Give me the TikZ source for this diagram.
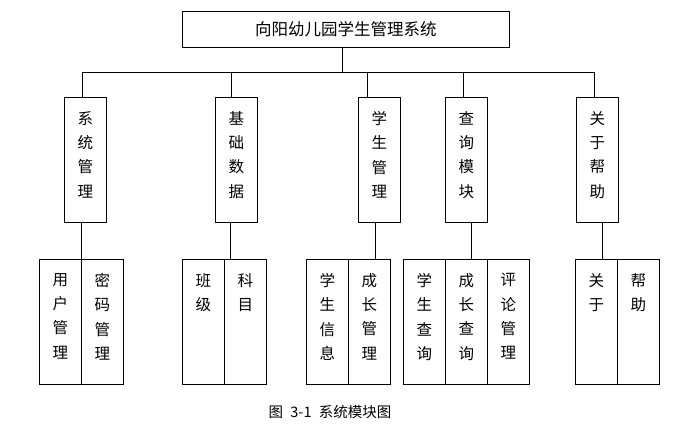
\documentclass[tikz,border=0pt]{standalone}
\usepackage{fontspec}
\newfontfamily\cjk{Noto Sans CJK SC}
\begin{document}
\begin{tikzpicture}[x=1pt,y=-1pt, line width=0.9pt,
  lv/.style={draw, minimum width=42pt, minimum height=125pt, inner sep=0pt, anchor=north west},
  vt/.style={anchor=north, yshift=-13.8pt, align=center, inner sep=0pt, font=\cjk\fontsize{15.5}{24.3}\selectfont},
  ]
\useasboundingbox[fill=white] (0,0) rectangle (697,437);
\node[draw, minimum width=327pt, minimum height=36pt, inner sep=0pt, anchor=north west, font=\cjk\fontsize{16.5}{20}\selectfont] (t) at (182,10.5) {向阳幼儿园学生管理系统\hspace{9pt}};
% level 2
\node[lv, label={[vt]north:系\\统\\管\\理}] (a) at (64,97) {};
\node[lv, label={[vt]north:基\\础\\数\\据}] (b) at (215,97) {};
\node[lv, label={[vt]north:学\\生\\管\\理}] (c) at (358,97) {};
\node[lv, label={[vt]north:查\\询\\模\\块}] (d) at (445,97) {};
\node[lv, label={[vt]north:关\\于\\帮\\助}] (e) at (576,97) {};
% level 3
\node[lv, label={[vt]north:用\\户\\管\\理}] (a1) at (39,259) {};
\node[lv, label={[vt]north:密\\码\\管\\理}] (a2) at (81,259) {};
\node[lv, label={[vt]north:班\\级}] (b1) at (182,259) {};
\node[lv, label={[vt]north:科\\目}] (b2) at (224,259) {};
\node[lv, label={[vt]north:学\\生\\信\\息}] (c1) at (306,259) {};
\node[lv, label={[vt]north:成\\长\\管\\理}] (c2) at (348,259) {};
\node[lv, label={[vt]north:学\\生\\查\\询}] (d1) at (403,259) {};
\node[lv, label={[vt]north:成\\长\\查\\询}] (d2) at (445,259) {};
\node[lv, label={[vt]north:评\\论\\管\\理}] (d3) at (487,259) {};
\node[lv, label={[vt]north:关\\于}] (e1) at (575,259) {};
\node[lv, label={[vt]north:帮\\助}] (e2) at (617,259) {};
% caption
\node[font=\cjk\fontsize{14.5}{16}\selectfont] (cap) at (330,412) {图\hspace{0.5em}3-1\hspace{0.5em}系统模块图};
% connectors top
\coordinate (tb) at ([xshift=-4pt]t.south);
\coordinate (bus) at ([xshift=-4pt,yshift=-25.5pt]t.south);
\draw (tb) -- (bus);
\draw ([xshift=-3pt]a.north) |- (bus);
\draw ([xshift=-5pt]b.north) |- (bus);
\draw ([xshift=-12pt]c.north) |- (bus);
\draw ([xshift=-3pt]d.north) |- (bus);
\draw ([xshift=-3pt]e.north) |- (bus);
% connectors bottom
\coordinate (ao) at ([xshift=-4pt]a.south);
\coordinate (bo) at ([xshift=-6pt]b.south);
\coordinate (co) at ([xshift=-4pt]c.south);
\coordinate (do) at ([xshift=5pt]d.south);
\coordinate (eo) at ([xshift=5pt]e.south);
\draw (ao) -- (ao |- a1.north);
\draw (bo) -- (bo |- b1.north);
\draw (co) -- (co |- c1.north);
\draw (do) -- (do |- d1.north);
\draw (eo) -- (eo |- e1.north);
\end{tikzpicture}
\end{document}
